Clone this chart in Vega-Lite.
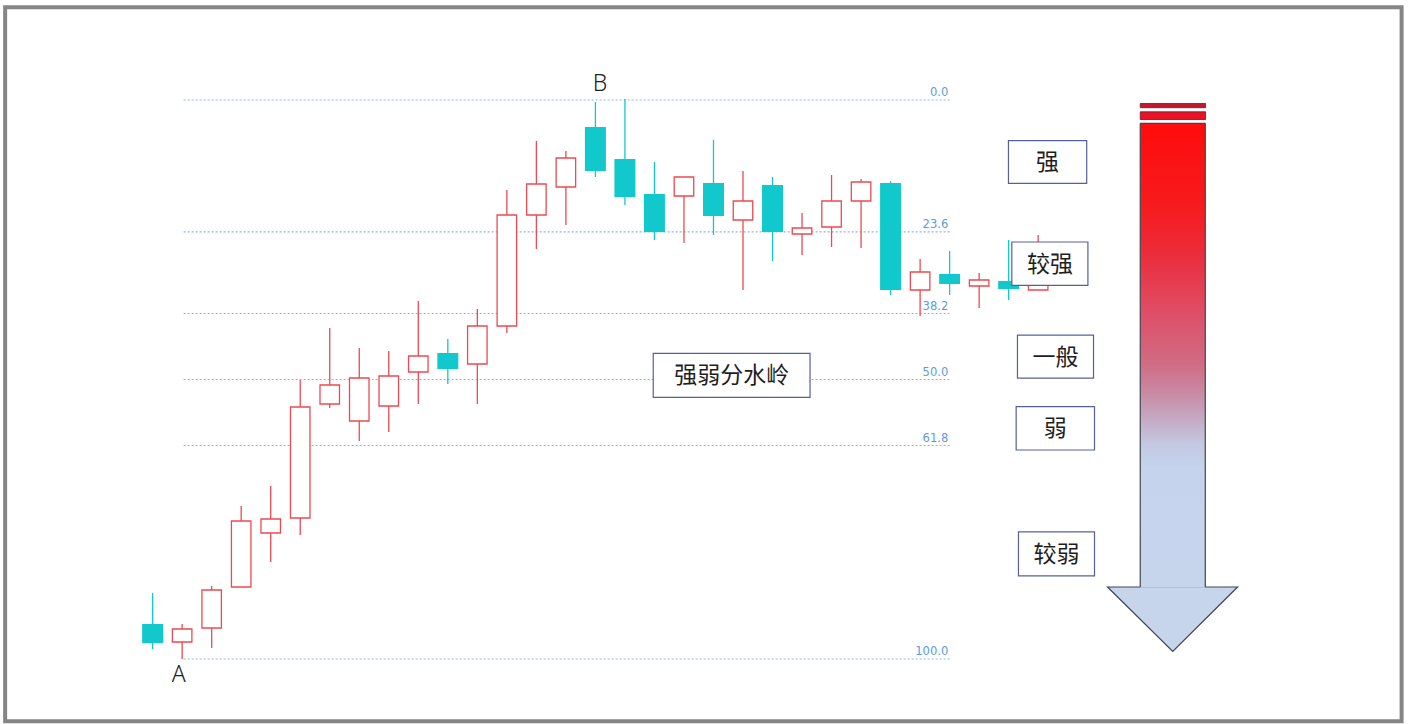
{
  "$schema": "https://vega.github.io/schema/vega-lite/v6.json",
  "width": 1410,
  "height": 724,
  "autosize": {"type": "none"},
  "padding": 0,
  "background": "white",
  "config": {"view": {"stroke": null}},
  "datasets": {
    "frame": [{"x1": -4.9966, "x2": 42.312, "y1": 3651.8, "y2": 2937.7}],
    "fib": [
      {"lbl": "0.0", "p": 3559, "from": 1.05, "to": 27.02},
      {"lbl": "23.6", "p": 3427.1, "from": 1.05, "to": 27.02},
      {"lbl": "38.2", "p": 3345.5, "from": 1.05, "to": 27.02},
      {"lbl": "50.0", "p": 3279.5, "from": 1.05, "to": 27.02},
      {"lbl": "61.8", "p": 3213.5, "from": 1.05, "to": 27.02},
      {"lbl": "100.0", "p": 3000, "from": 1.05, "to": 27.02}
    ],
    "candles": [
      {"i": 0, "o": 3035, "c": 3016, "h": 3066, "l": 3010},
      {"i": 1, "o": 3017, "c": 3030, "h": 3035, "l": 3000},
      {"i": 2, "o": 3031, "c": 3069, "h": 3073, "l": 3011},
      {"i": 3, "o": 3072, "c": 3138, "h": 3153, "l": 3072},
      {"i": 4, "o": 3126, "c": 3140, "h": 3173, "l": 3097},
      {"i": 5, "o": 3141, "c": 3252, "h": 3279, "l": 3124},
      {"i": 6, "o": 3255, "c": 3274, "h": 3331, "l": 3251},
      {"i": 7, "o": 3238, "c": 3281, "h": 3311, "l": 3218},
      {"i": 8, "o": 3253, "c": 3283, "h": 3308, "l": 3227},
      {"i": 9, "o": 3287, "c": 3303, "h": 3358, "l": 3255},
      {"i": 10, "o": 3306, "c": 3290, "h": 3320, "l": 3275},
      {"i": 11, "o": 3295, "c": 3333, "h": 3350, "l": 3255},
      {"i": 12, "o": 3333, "c": 3444, "h": 3469, "l": 3326},
      {"i": 13, "o": 3444, "c": 3475, "h": 3518, "l": 3410},
      {"i": 14, "o": 3472, "c": 3501, "h": 3508, "l": 3434},
      {"i": 15, "o": 3532, "c": 3488, "h": 3557, "l": 3482},
      {"i": 16, "o": 3500, "c": 3462, "h": 3560, "l": 3454},
      {"i": 17, "o": 3465, "c": 3427, "h": 3497, "l": 3419},
      {"i": 18, "o": 3463, "c": 3482, "h": 3482, "l": 3416},
      {"i": 19, "o": 3476, "c": 3443, "h": 3519, "l": 3424},
      {"i": 20, "o": 3439, "c": 3458, "h": 3488, "l": 3369},
      {"i": 21, "o": 3474, "c": 3427, "h": 3482, "l": 3398},
      {"i": 22, "o": 3425, "c": 3431, "h": 3446, "l": 3404},
      {"i": 23, "o": 3432, "c": 3458, "h": 3484, "l": 3412},
      {"i": 24, "o": 3458, "c": 3477, "h": 3480, "l": 3411},
      {"i": 25, "o": 3476, "c": 3369, "h": 3478, "l": 3364},
      {"i": 26, "o": 3369, "c": 3387, "h": 3400, "l": 3343},
      {"i": 27, "o": 3385, "c": 3375, "h": 3408, "l": 3364},
      {"i": 28, "o": 3373, "c": 3379, "h": 3386, "l": 3351},
      {"i": 29, "o": 3378, "c": 3370, "h": 3419, "l": 3359},
      {"i": 30, "o": 3369, "c": 3383, "h": 3424, "l": 3369}
    ],
    "boxes": [
      {"t": "强", "x1": 28.993, "x2": 31.644, "y1": 3518.3, "y2": 3475.7, "cx": 30.318, "cy": 3497},
      {"t": "较强", "x1": 29.108, "x2": 31.685, "y1": 3417, "y2": 3373.7, "cx": 30.397, "cy": 3395.4},
      {"t": "一般", "x1": 29.298, "x2": 31.875, "y1": 3323.8, "y2": 3280.9, "cx": 30.587, "cy": 3302.3},
      {"t": "弱", "x1": 29.254, "x2": 31.908, "y1": 3252.3, "y2": 3209, "cx": 30.581, "cy": 3230.7},
      {"t": "较弱", "x1": 29.332, "x2": 31.908, "y1": 3127.1, "y2": 3083.1, "cx": 30.62, "cy": 3105.1},
      {"t": "强弱分水岭", "x1": 16.959, "x2": 22.271, "y1": 3305.7, "y2": 3261.7, "cx": 19.615, "cy": 3283.7}
    ],
    "head": [
      {"x": 32.349, "top": 3072, "bot": 3072},
      {"x": 34.559, "top": 3072, "bot": 3007.5},
      {"x": 36.756, "top": 3072, "bot": 3072}
    ],
    "body": [{"x1": 33.458, "x2": 35.661, "y1": 3535.7, "y2": 3071.2}],
    "edges": [
      {"x1": 33.458, "x2": 33.458, "y1": 3535.7, "y2": 3072},
      {"x1": 35.661, "x2": 35.661, "y1": 3535.7, "y2": 3072},
      {"x1": 33.458, "x2": 35.661, "y1": 3535.7, "y2": 3535.7}
    ],
    "stripes": [
      {"k": "s1", "x1": 33.458, "x2": 35.671, "y1": 3555.5, "y2": 3551.3},
      {"k": "s2", "x1": 33.458, "x2": 35.671, "y1": 3547.2, "y2": 3539.5}
    ],
    "points": [
      {"t": "A", "x": 0.881, "y": 2977},
      {"t": "B", "x": 15.153, "y": 3568.5}
    ]
  },
  "layer": [
    {
      "data": {"name": "frame"},
      "mark": {"type": "rect", "fillOpacity": 0, "stroke": "#858585", "strokeWidth": 4},
      "encoding": {
        "x": {"field": "x1", "type": "quantitative", "axis": null, "scale": {"domain": [-5.0014, 42.427], "nice": false, "zero": false}},
        "x2": {"field": "x2"},
        "y": {"field": "y1", "type": "quantitative", "axis": null, "scale": {"domain": [2935, 3659], "nice": false, "zero": false}},
        "y2": {"field": "y2"}
      }
    },
    {
      "data": {"name": "fib"},
      "mark": {"type": "rule", "color": "#8cb6e2", "strokeWidth": 1.2, "strokeDash": [2, 2]},
      "encoding": {
        "x": {"field": "from", "type": "quantitative", "axis": null},
        "x2": {"field": "to"},
        "y": {"field": "p", "type": "quantitative", "axis": null}
      }
    },
    {
      "data": {"name": "fib"},
      "mark": {"type": "text", "align": "right", "baseline": "alphabetic", "dy": -4, "dx": -2, "font": "DejaVu Sans", "fontSize": 11.5, "color": "#5c9be0"},
      "encoding": {
        "x": {"field": "to", "type": "quantitative", "axis": null},
        "y": {"field": "p", "type": "quantitative", "axis": null},
        "text": {"field": "lbl"}
      }
    },
    {
      "data": {"name": "candles"},
      "mark": {"type": "rule", "strokeWidth": 1.3},
      "encoding": {
        "x": {"field": "i", "type": "quantitative", "axis": null},
        "y": {"field": "l", "type": "quantitative", "axis": null},
        "y2": {"field": "h"},
        "color": {"condition": {"test": "datum.c >= datum.o", "value": "#ec4a52"}, "value": "#11c9cc"}
      }
    },
    {
      "data": {"name": "candles"},
      "transform": [{"filter": "datum.c >= datum.o"}],
      "mark": {"type": "bar", "orient": "vertical", "size": 19.5, "fill": "white", "stroke": "#ec4a52", "strokeWidth": 1.3},
      "encoding": {
        "x": {"field": "i", "type": "quantitative", "axis": null},
        "y": {"field": "o", "type": "quantitative", "axis": null},
        "y2": {"field": "c"}
      }
    },
    {
      "data": {"name": "candles"},
      "transform": [{"filter": "datum.c < datum.o"}],
      "mark": {"type": "bar", "orient": "vertical", "size": 21, "fill": "#11c9cc", "strokeWidth": 0},
      "encoding": {
        "x": {"field": "i", "type": "quantitative", "axis": null},
        "y": {"field": "o", "type": "quantitative", "axis": null},
        "y2": {"field": "c"}
      }
    },
    {
      "data": {"name": "boxes"},
      "mark": {"type": "rect", "fill": "white", "stroke": "#55609a", "strokeWidth": 1.2},
      "encoding": {
        "x": {"field": "x1", "type": "quantitative", "axis": null},
        "x2": {"field": "x2"},
        "y": {"field": "y1", "type": "quantitative", "axis": null},
        "y2": {"field": "y2"}
      }
    },
    {
      "data": {"name": "boxes"},
      "mark": {"type": "text", "align": "center", "baseline": "middle", "font": "Noto Sans CJK SC", "fontSize": 23, "color": "#1e1e1e", "dy": 1},
      "encoding": {
        "x": {"field": "cx", "type": "quantitative", "axis": null},
        "y": {"field": "cy", "type": "quantitative", "axis": null},
        "text": {"field": "t"}
      }
    },
    {
      "data": {"name": "head"},
      "mark": {"type": "area", "orient": "vertical", "fill": "#c6d4ec", "stroke": "#3f4652", "strokeWidth": 1.2},
      "encoding": {
        "x": {"field": "x", "type": "quantitative", "axis": null},
        "y": {"field": "top", "type": "quantitative", "axis": null},
        "y2": {"field": "bot"}
      }
    },
    {
      "data": {"name": "body"},
      "mark": {
        "type": "rect",
        "strokeWidth": 0,
        "fill": {
          "gradient": "linear",
          "x1": 0, "y1": 0, "x2": 0, "y2": 1,
          "stops": [
            {"offset": 0, "color": "#ff0c0c"},
            {"offset": 0.17, "color": "#f61a1c"},
            {"offset": 0.28, "color": "#ec2c3a"},
            {"offset": 0.4, "color": "#e04c64"},
            {"offset": 0.52, "color": "#d06c86"},
            {"offset": 0.58, "color": "#c98aa2"},
            {"offset": 0.63, "color": "#c4a6c0"},
            {"offset": 0.69, "color": "#c4c8e2"},
            {"offset": 0.74, "color": "#c5d3ec"},
            {"offset": 1, "color": "#c6d4ec"}
          ]
        }
      },
      "encoding": {
        "x": {"field": "x1", "type": "quantitative", "axis": null},
        "x2": {"field": "x2"},
        "y": {"field": "y1", "type": "quantitative", "axis": null},
        "y2": {"field": "y2"}
      }
    },
    {
      "data": {"name": "edges"},
      "mark": {"type": "rule", "color": "#3f4652", "strokeWidth": 1.2},
      "encoding": {
        "x": {"field": "x1", "type": "quantitative", "axis": null},
        "x2": {"field": "x2"},
        "y": {"field": "y1", "type": "quantitative", "axis": null},
        "y2": {"field": "y2"}
      }
    },
    {
      "data": {"name": "stripes"},
      "mark": {"type": "rect", "stroke": "#6b1a28", "strokeWidth": 0.8},
      "encoding": {
        "x": {"field": "x1", "type": "quantitative", "axis": null},
        "x2": {"field": "x2"},
        "y": {"field": "y1", "type": "quantitative", "axis": null},
        "y2": {"field": "y2"},
        "color": {"field": "k", "type": "nominal", "scale": {"domain": ["s1", "s2"], "range": ["#c4162c", "#e81222"]}, "legend": null}
      }
    },
    {
      "data": {"name": "points"},
      "mark": {"type": "text", "align": "center", "baseline": "alphabetic", "font": "Noto Sans", "fontSize": 23, "fontWeight": 300, "color": "#222222"},
      "encoding": {
        "x": {"field": "x", "type": "quantitative", "axis": null},
        "y": {"field": "y", "type": "quantitative", "axis": null},
        "text": {"field": "t"}
      }
    }
  ]
}
